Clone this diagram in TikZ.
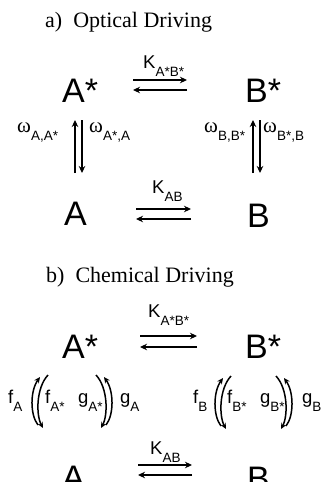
\documentclass[tikz,border=0pt]{standalone}
\usepackage{fontspec}
\setmainfont{Liberation Sans}
\newfontfamily\titlefont{Liberation Serif}
\usetikzlibrary{arrows.meta}
\newcommand{\lowsub}[1]{\raisebox{-8pt}{\fontsize{13.5}{14}\selectfont #1}}
\newcommand{\om}{{\titlefont\fontsize{21}{22}\selectfont ω}}

\begin{document}
\begin{tikzpicture}[x=1pt, y=-1pt,
	every node/.style={inner sep=0pt, anchor=base west},
	big/.style={font=\fontsize{34}{36}\selectfont},
	lbl/.style={font=\fontsize{18.5}{20}\selectfont},
	ttl/.style={font=\fontsize{22}{24}\selectfont\titlefont},
	rx/.style={line width=1.8pt, -{Stealth[length=7pt,width=6.5pt]}},
	cx/.style={line width=1.5pt, -{Stealth[length=6pt,width=5.5pt]}}]
	\useasboundingbox (0,0) rectangle (321,482);
	% a) optical driving
	\node[ttl] (ta) at (45,27) {a)\ \ Optical Driving};
	\node[big] (As) at (62,102) {A*};
	\node[big] (Bs) at (245,102) {B*};
	\node[big] (A) at (64,225) {A};
	\node[big] (B) at (247,227) {B};
	\node[lbl] (k1) at (143,68) {K\lowsub{A*B*}};
	\node[lbl] (k2) at (152,193) {K\lowsub{AB}};
	\node[lbl] (w1) at (17,132) {\om\lowsub{A,A*}};
	\node[lbl] (w2) at (89,132) {\om\lowsub{A*,A}};
	\node[lbl] (w3) at (204,132) {\om\lowsub{B,B*}};
	\node[lbl] (w4) at (263,132) {\om\lowsub{B*,B}};
	\coordinate (p1) at (133,85); \coordinate (q1) at (187,85);
	\coordinate (p2) at (136,214); \coordinate (q2) at (191,214);
	\draw[rx] ([yshift=5]p1) -- ([yshift=5]q1);
	\draw[rx] ([yshift=-5]q1) -- ([yshift=-5]p1);
	\draw[rx] ([yshift=5]p2) -- ([yshift=5]q2);
	\draw[rx] ([yshift=-5]q2) -- ([yshift=-5]p2);
	\coordinate (u1) at (78.5,120); \coordinate (d1) at (78.5,173);
	\coordinate (u2) at (256.5,120); \coordinate (d2) at (256.5,173);
	\draw[rx] ([xshift=-3.5]d1) -- ([xshift=-3.5]u1);
	\draw[rx] ([xshift=3.5]u1) -- ([xshift=3.5]d1);
	\draw[rx] ([xshift=-3.5]d2) -- ([xshift=-3.5]u2);
	\draw[rx] ([xshift=3.5]u2) -- ([xshift=3.5]d2);
	% b) chemical driving
	\node[ttl] (tb) at (46,282) {b)\ \ Chemical Driving};
	\node[big] (cAs) at (62,358) {A*};
	\node[big] (cBs) at (245,358) {B*};
	\node[big] (cA) at (62,489) {A};
	\node[big] (cB) at (247,490) {B};
	\node[lbl] (k3) at (148,317) {K\lowsub{A*B*}};
	\node[lbl] (k4) at (150,454) {K\lowsub{AB}};
	\node[lbl] (f1) at (8,403) {f\lowsub{A}};
	\node[lbl] (f2) at (45,403) {f\lowsub{A*}};
	\node[lbl] (g2) at (78,403) {g\lowsub{A*}};
	\node[lbl] (g1) at (120,403) {g\lowsub{A}};
	\node[lbl] (f3) at (193,403) {f\lowsub{B}};
	\node[lbl] (f4) at (227,403) {f\lowsub{B*}};
	\node[lbl] (g4) at (260,403) {g\lowsub{B*}};
	\node[lbl] (g3) at (302,403) {g\lowsub{B}};
	\coordinate (p3) at (140,341.5); \coordinate (q3) at (197,341.5);
	\coordinate (p4) at (138,470); \coordinate (q4) at (192,470);
	\draw[rx] ([yshift=5.5]p3) -- ([yshift=5.5]q3);
	\draw[rx] ([yshift=-5.5]q3) -- ([yshift=-5.5]p3);
	\draw[rx] ([yshift=5]p4) -- ([yshift=5]q4);
	\draw[rx] ([yshift=-5]q4) -- ([yshift=-5]p4);
	% curved pairs
	\foreach \cxp/\cyp/\sx in {32/403/1, 112/403/-1, 215/404/1, 292/404/-1} {
		\begin{scope}[shift={(\cxp,\cyp)}, xscale=\sx]
			\draw[cx] (6,22) .. controls (-2,12) and (-2,-12) .. (8,-26);
			\draw[cx] (16,-28) .. controls (4,-15) and (4,12) .. (11,25);
		\end{scope}
	}
\end{tikzpicture}
\end{document}
